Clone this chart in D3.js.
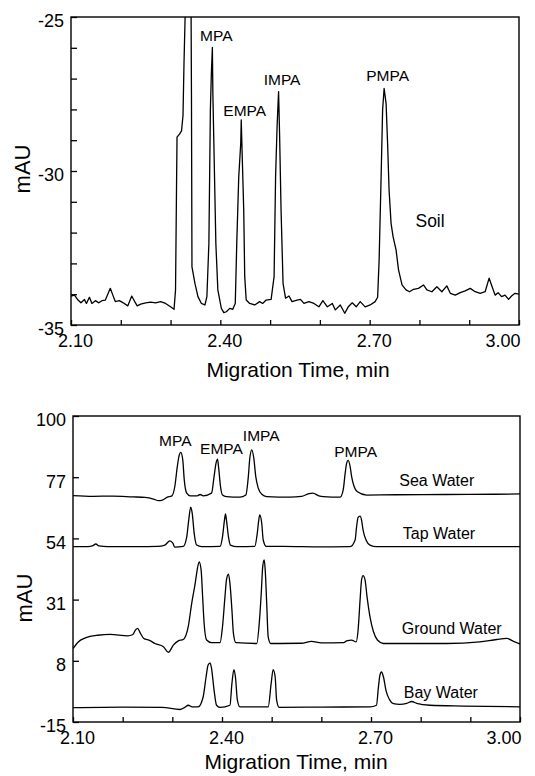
<!DOCTYPE html>
<html>
<head>
<meta charset="utf-8">
<script src="https://cdn.jsdelivr.net/npm/d3@7"></script>
<style>
  body { margin: 0; background: #fff; }
  svg { display: block; font-family: "Liberation Sans", Arial, sans-serif; }
  .axis .domain { display: none; }
  .axis line { stroke: #000; stroke-width: 1.3; }
  .axis text { fill: #000; font-size: 18px; }
  .trace { fill: none; stroke: #000; stroke-width: 1.3; stroke-linejoin: round; }
</style>
</head>
<body>
<svg id="chart" width="535" height="776"></svg>
<script>
// ---- data: [migration time (min), absorbance (mAU)] ----
const soil = [
  [2.100,-34.06],[2.107,-34.03],[2.113,-34.17],[2.120,-34.28],[2.127,-34.17],[2.131,-34.30],
  [2.137,-34.10],[2.142,-34.30],[2.149,-34.21],[2.156,-34.28],[2.162,-34.21],[2.169,-34.19],
  [2.176,-33.92],[2.179,-33.81],[2.184,-34.03],[2.189,-34.24],[2.197,-34.21],[2.205,-34.28],
  [2.214,-34.38],[2.222,-34.06],[2.228,-34.24],[2.233,-34.38],[2.240,-34.32],[2.250,-34.28],
  [2.260,-34.26],[2.270,-34.28],[2.280,-34.24],[2.290,-34.30],[2.300,-34.41],[2.307,-34.49],
  [2.310,-33.86],[2.312,-30.50],[2.313,-28.90],[2.318,-28.80],[2.322,-28.70],[2.325,-28.20],
  [2.327,-26.50],[2.330,-24.50],[2.336,-21.50],[2.341,-24.00],[2.342,-27.50],[2.343,-33.11],
  [2.349,-33.65],[2.355,-34.08],[2.362,-34.30],[2.369,-34.35],[2.373,-34.08],[2.377,-32.35],
  [2.380,-28.02],[2.382,-26.83],[2.384,-25.99],[2.385,-27.48],[2.387,-29.10],[2.391,-32.35],
  [2.395,-33.86],[2.402,-34.46],[2.407,-34.60],[2.412,-34.57],[2.419,-34.46],[2.425,-34.49],
  [2.430,-34.30],[2.433,-32.35],[2.437,-30.19],[2.441,-29.10],[2.442,-28.34],[2.444,-29.54],
  [2.447,-31.27],[2.449,-33.43],[2.452,-34.19],[2.459,-34.30],[2.469,-34.35],[2.479,-34.24],
  [2.485,-34.30],[2.492,-34.19],[2.502,-34.17],[2.508,-33.43],[2.511,-30.19],[2.514,-28.56],
  [2.517,-27.42],[2.519,-28.78],[2.522,-31.27],[2.526,-33.65],[2.531,-34.13],[2.538,-34.06],
  [2.544,-34.24],[2.554,-34.19],[2.561,-34.17],[2.568,-34.30],[2.578,-34.24],[2.588,-34.30],
  [2.598,-34.41],[2.606,-34.21],[2.615,-34.41],[2.625,-34.30],[2.631,-34.51],[2.641,-34.35],
  [2.650,-34.62],[2.657,-34.41],[2.665,-34.28],[2.673,-34.41],[2.681,-34.24],[2.691,-34.41],
  [2.701,-34.35],[2.711,-34.24],[2.716,-34.10],[2.719,-32.89],[2.723,-30.19],[2.726,-28.02],
  [2.729,-27.32],[2.733,-27.81],[2.736,-29.10],[2.739,-30.62],[2.743,-31.70],[2.747,-32.13],
  [2.753,-32.56],[2.758,-33.21],[2.765,-33.70],[2.773,-33.86],[2.780,-33.92],[2.788,-33.84],
  [2.798,-33.81],[2.808,-33.70],[2.815,-33.86],[2.825,-33.92],[2.835,-33.76],[2.845,-33.92],
  [2.855,-33.73],[2.862,-33.97],[2.872,-34.03],[2.882,-33.95],[2.892,-33.89],[2.902,-33.81],
  [2.912,-33.92],[2.922,-33.97],[2.932,-33.92],[2.940,-33.48],[2.946,-33.76],[2.952,-34.03],
  [2.958,-33.95],[2.965,-34.08],[2.972,-34.03],[2.979,-34.17],[2.985,-34.06],[2.992,-33.97],
  [3.000,-34.00]
];

const seaWater = [
  [2.100,70.1],[2.140,69.8],[2.180,69.9],[2.220,69.6],[2.245,69.4],[2.262,68.8],[2.272,68.2],
  [2.280,68.4],[2.290,69.5],[2.299,70.0],[2.305,73.5],[2.310,81.0],[2.314,85.4],[2.317,86.3],
  [2.321,83.5],[2.324,76.0],[2.329,71.0],[2.336,70.0],[2.350,70.0],[2.356,70.5],[2.362,70.0],
  [2.379,71.0],[2.384,77.2],[2.388,82.3],[2.391,83.8],[2.393,81.0],[2.397,73.5],[2.401,70.3],
  [2.409,69.7],[2.436,69.5],[2.448,70.3],[2.453,77.2],[2.456,84.2],[2.460,87.3],[2.464,84.2],
  [2.468,77.2],[2.473,72.9],[2.480,70.6],[2.490,69.7],[2.537,69.5],[2.560,69.8],[2.575,70.8],
  [2.583,71.0],[2.595,70.0],[2.604,69.7],[2.638,69.5],[2.644,72.2],[2.648,78.5],[2.651,82.3],
  [2.654,83.3],[2.658,81.0],[2.661,77.2],[2.666,73.5],[2.672,71.6],[2.691,70.3],[2.750,70.4],
  [2.850,70.5],[2.950,70.6],[3.000,70.7]
];

const tapWater = [
  [2.100,50.9],[2.130,50.9],[2.140,51.3],[2.146,51.9],[2.152,51.2],[2.170,50.9],[2.230,50.9],
  [2.270,51.0],[2.285,51.5],[2.295,53.1],[2.301,52.2],[2.305,50.7],[2.322,51.0],[2.329,54.6],
  [2.333,60.9],[2.337,65.7],[2.340,63.5],[2.344,55.9],[2.349,51.5],[2.359,50.9],[2.396,51.0],
  [2.401,54.6],[2.405,60.9],[2.407,63.2],[2.409,60.9],[2.413,54.6],[2.417,51.5],[2.430,50.9],
  [2.466,51.0],[2.471,55.9],[2.474,60.9],[2.476,62.8],[2.480,59.7],[2.483,53.4],[2.489,51.0],
  [2.523,51.0],[2.600,50.8],[2.658,50.9],[2.668,53.4],[2.671,58.4],[2.674,61.9],[2.678,62.4],
  [2.681,60.9],[2.684,57.2],[2.690,53.4],[2.698,51.5],[2.711,50.9],[2.850,50.9],[3.000,50.9]
];

const groundWater = [
  [2.100,12.6],[2.110,15.0],[2.125,16.6],[2.150,17.6],[2.175,17.9],[2.210,17.4],[2.220,17.8],
  [2.226,19.6],[2.230,20.2],[2.235,18.6],[2.242,16.5],[2.255,15.6],[2.265,14.5],[2.282,13.3],
  [2.292,11.2],[2.302,13.9],[2.312,15.5],[2.322,16.0],[2.332,20.8],[2.339,29.6],[2.346,37.1],
  [2.350,42.1],[2.354,45.2],[2.358,42.1],[2.361,32.1],[2.364,22.1],[2.369,15.8],[2.379,14.8],
  [2.396,14.8],[2.401,20.8],[2.406,32.1],[2.409,38.4],[2.413,40.6],[2.416,37.1],[2.420,27.1],
  [2.423,18.3],[2.428,14.8],[2.470,14.5],[2.475,22.1],[2.479,33.3],[2.482,43.4],[2.485,45.9],
  [2.487,42.1],[2.490,29.6],[2.493,17.0],[2.498,14.5],[2.560,14.6],[2.580,15.3],[2.600,14.7],
  [2.645,14.8],[2.651,15.5],[2.661,15.8],[2.670,15.1],[2.674,19.5],[2.678,30.8],[2.681,38.4],
  [2.684,40.0],[2.688,38.4],[2.692,32.1],[2.698,24.5],[2.705,18.9],[2.713,15.8],[2.725,14.5],
  [2.852,14.5],[2.919,15.1],[2.953,16.0],[2.973,16.4],[2.987,15.3],[3.000,14.3]
];

const bayWater = [
  [2.100,-9.6],[2.200,-9.4],[2.280,-9.5],[2.315,-10.3],[2.325,-9.5],[2.332,-8.7],[2.340,-9.3],
  [2.352,-9.3],[2.362,-5.6],[2.368,2.0],[2.372,6.4],[2.376,7.2],[2.379,5.1],[2.384,-3.0],
  [2.389,-8.7],[2.396,-9.5],[2.416,-8.7],[2.420,-0.5],[2.424,4.7],[2.427,2.0],[2.431,-6.8],
  [2.436,-9.3],[2.493,-9.3],[2.499,-0.5],[2.503,4.7],[2.507,2.0],[2.510,-6.8],[2.515,-9.5],
  [2.600,-9.4],[2.698,-9.3],[2.711,-8.7],[2.715,-1.8],[2.718,2.6],[2.721,3.8],[2.725,2.0],
  [2.730,-3.0],[2.737,-6.5],[2.745,-8.1],[2.758,-8.4],[2.772,-8.0],[2.782,-7.3],[2.792,-8.0],
  [2.819,-8.7],[2.886,-9.0],[3.000,-9.3]
];

// ---- ticks and labels ----
const xTickValues = [2.10, 2.20, 2.30, 2.40, 2.50, 2.60, 2.70, 2.80, 2.90, 3.00];
const xTickLabels = [2.10, 2.40, 2.70, 3.00];
const soilYTicks  = [-35, -34, -33, -32, -31, -30, -29, -28, -27, -26, -25];
const soilYLabels = [-35, -30, -25];
const waterYTicks = [-15, 8, 31, 54, 77, 100];

// peak names placed at [time, mAU]
const soilPeakNames  = [['MPA', 2.392, -25.77], ['EMPA', 2.449, -28.21], ['IMPA', 2.524, -27.21], ['PMPA', 2.736, -27.07]];
const waterPeakNames = [['MPA', 2.306, 88.7], ['EMPA', 2.399, 85.7], ['IMPA', 2.479, 90.7], ['PMPA', 2.669, 84.7]];
const sampleNames    = [['Sea Water', 2.757, 73.7], ['Tap Water', 2.764, 53.7], ['Ground Water', 2.762, 18.1], ['Bay Water', 2.766, -6.1]];

const svg = d3.select('#chart');
const defs = svg.append('defs');

function drawPanel(p) {
    const x = d3.scaleLinear().domain([2.10, 3.00]).range([p.left, p.right]);
    const y = d3.scaleLinear().domain(p.yDomain).range([p.bottom, p.top]);
    const g = svg.append('g');

    defs.append('clipPath').attr('id', p.id + '-clip')
        .append('rect')
        .attr('x', p.left).attr('y', p.top)
        .attr('width', p.right - p.left).attr('height', p.bottom - p.top);

    const isLabel = (arr, d) => arr.some(v => Math.abs(v - d) < 1e-9);

    // x axis, ticks pointing inward
    const xa = g.append('g').attr('class', 'axis')
        .attr('transform', `translate(0,${p.bottom})`)
        .call(d3.axisBottom(x).tickValues(xTickValues).tickSize(-5).tickPadding(9)
            .tickFormat(d => isLabel(xTickLabels, d) ? d.toFixed(2) : ''));
    xa.selectAll('text').attr('dx', 4);
    xa.selectAll('text').filter(d => d === 3.00)
        .attr('dx', 1).attr('text-anchor', 'end');

    // y axis
    g.append('g').attr('class', 'axis')
        .attr('transform', `translate(${p.left},0)`)
        .call(d3.axisLeft(y).tickValues(p.yTicks).tickSize(-6).tickPadding(7)
            .tickFormat(d => isLabel(p.yLabels, d) ? d : ''))
        .selectAll('text').attr('dy', '0.55em');

    // frame
    g.append('rect')
        .attr('x', p.left).attr('y', p.top)
        .attr('width', p.right - p.left).attr('height', p.bottom - p.top)
        .attr('fill', 'none').attr('stroke', '#000').attr('stroke-width', 1.4);

    const line = d3.line().x(d => x(d[0])).y(d => y(d[1])).curve(p.curve);
    const traces = g.append('g').attr('clip-path', `url(#${p.id}-clip)`);
    p.series.forEach(s => traces.append('path').attr('class', 'trace').datum(s).attr('d', line));

    // peak names
    g.selectAll(null).data(p.names).join('text')
        .attr('x', d => x(d[1])).attr('y', d => y(d[2]))
        .attr('text-anchor', 'middle').attr('font-size', p.nameSize)
        .text(d => d[0]);

    // axis titles
    g.append('text')
        .attr('x', p.titleX).attr('y', p.titleY)
        .attr('text-anchor', 'middle').attr('font-size', 21)
        .text('Migration Time, min');
    g.append('text')
        .attr('transform', `translate(${p.mauX},${p.mauY}) rotate(-90)`)
        .attr('text-anchor', 'middle').attr('font-size', 22)
        .text('mAU');

    return { x, y, g };
}

// top: soil extract
const soilPanel = drawPanel({
    id: 'soil', left: 71, right: 519, top: 17, bottom: 325,
    yDomain: [-35, -25], yTicks: soilYTicks, yLabels: soilYLabels,
    series: [soil], curve: d3.curveLinear,
    names: soilPeakNames, nameSize: 15.5,
    titleX: 298, titleY: 377, mauX: 30, mauY: 169
});
soilPanel.g.append('text')
    .attr('x', soilPanel.x(2.792)).attr('y', soilPanel.y(-31.83))
    .attr('font-size', 17.5)
    .text('Soil');

// bottom: water samples
const waterPanel = drawPanel({
    id: 'water', left: 73, right: 520, top: 416, bottom: 722,
    yDomain: [-15, 100], yTicks: waterYTicks, yLabels: waterYTicks,
    series: [seaWater, tapWater, groundWater, bayWater], curve: d3.curveMonotoneX,
    names: waterPeakNames, nameSize: 15.5,
    titleX: 296, titleY: 769, mauX: 32, mauY: 598
});
waterPanel.g.selectAll(null).data(sampleNames).join('text')
    .attr('x', d => waterPanel.x(d[1])).attr('y', d => waterPanel.y(d[2]))
    .attr('font-size', 16)
    .text(d => d[0]);
</script>
</body>
</html>
